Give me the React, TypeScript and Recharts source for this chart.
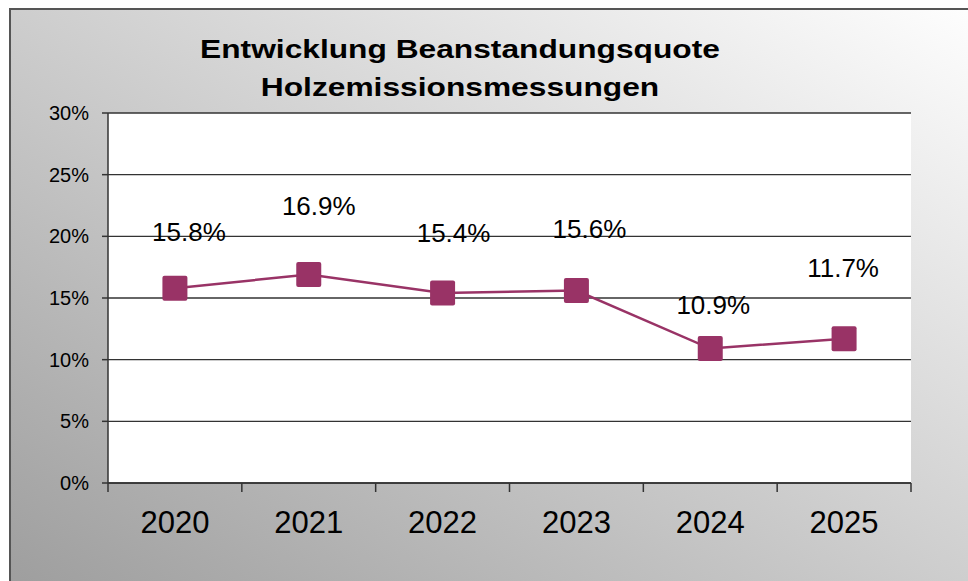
import { LineChart, Line, XAxis, YAxis, CartesianGrid, LabelList } from "recharts";

const YEARS = ["2020", "2021", "2022", "2023", "2024", "2025"];
const QUOTE = [15.8, 16.9, 15.4, 15.6, 10.9, 11.7];
const Y_TICKS = [0, 5, 10, 15, 20, 25, 30];

// data labels were dragged around by hand in the original, keep the nudges (dx, dy from the point)
const LABEL_NUDGE = [
  [14, -47],
  [10, -60],
  [11, -51],
  [13, -53],
  [3, -35],
  [-1, -62],
];

const W = 968;
const H = 581;
const PLOT_LEFT = 108;
const PLOT_RIGHT = 911;
const PLOT_TOP = 113;
const PLOT_BOTTOM = 483;
const PLOT_W = PLOT_RIGHT - PLOT_LEFT;
const HALF_BAND = PLOT_W / YEARS.length / 2;

const FONT = "'Liberation Sans', Arial, sans-serif";
const PLUM = "#993366";

const data = YEARS.map((year, i) => ({ year, quote: QUOTE[i] }));

function YearTick(props: any) {
  const { x, y, payload, index, visibleTicksCount } = props;
  return (
    <g>
      <line x1={x - HALF_BAND} x2={x - HALF_BAND} y1={y} y2={y + 9} stroke="#333" strokeWidth={1.5} />
      {index === visibleTicksCount - 1 && (
        <line x1={x + HALF_BAND} x2={x + HALF_BAND} y1={y} y2={y + 9} stroke="#333" strokeWidth={1.5} />
      )}
      <text x={x} y={y + 50} textAnchor="middle" fontSize={31} fontFamily={FONT} fill="#000">
        {payload.value}
      </text>
    </g>
  );
}

function PercentTick(props: any) {
  const { x, y, payload } = props;
  return (
    <text x={x} y={y} dy="0.355em" textAnchor="end" fontSize={20} fontFamily={FONT} fill="#000">
      {`${payload.value}%`}
    </text>
  );
}

function SquareDot(props: any) {
  const { cx, cy, index } = props;
  if (cx == null || cy == null) return null;
  return <rect key={index} x={cx - 12.5} y={cy - 12.5} width={25} height={25} rx={2} fill={PLUM} />;
}

function PointLabel(props: any) {
  const { x, y, value, index } = props;
  const [dx, dy] = LABEL_NUDGE[index] ?? [0, -50];
  return (
    <text x={x + dx} y={y + dy} textAnchor="middle" fontSize={26} fontFamily={FONT} fill="#000">
      {`${value.toFixed(1)}%`}
    </text>
  );
}

export default function App() {
  return (
    <div style={{ position: "absolute", left: 0, top: 0, width: W, height: H, overflow: "hidden" }}>
      <div
        style={{
          position: "absolute",
          left: 9,
          top: 8,
          width: 990,
          height: 600,
          border: "2px solid #555",
          background: "linear-gradient(to top right, #9c9c9c, #ffffff)",
        }}
      />
      <div
        style={{
          position: "absolute",
          left: 0,
          top: 30,
          width: 920,
          textAlign: "center",
          fontFamily: FONT,
          fontWeight: 700,
          fontSize: 26,
          lineHeight: "38px",
          color: "#000",
          transform: "scaleX(1.22)",
        }}
      >
        <div>Entwicklung Beanstandungsquote</div>
        <div>Holzemissionsmessungen</div>
      </div>
      <div style={{ position: "absolute", left: 0, top: 0 }}>
        <LineChart
          width={W}
          height={H}
          data={data}
          margin={{ top: PLOT_TOP, right: W - PLOT_RIGHT, bottom: 0, left: 0 }}
        >
          <CartesianGrid vertical={false} stroke="#333" strokeWidth={1.3} fill="#fff" fillOpacity={1} />
          <XAxis
            dataKey="year"
            height={H - PLOT_BOTTOM}
            padding={{ left: HALF_BAND, right: HALF_BAND }}
            tickSize={0}
            tickMargin={0}
            tickLine={false}
            axisLine={{ stroke: "#333", strokeWidth: 1.5 }}
            tick={<YearTick />}
            interval={0}
          />
          <XAxis
            xAxisId="top"
            dataKey="year"
            orientation="top"
            height={0}
            padding={{ left: HALF_BAND, right: HALF_BAND }}
            tick={false}
            tickLine={false}
            axisLine={{ stroke: "#888", strokeWidth: 2 }}
          />
          <YAxis
            width={PLOT_LEFT}
            domain={[0, 30]}
            ticks={Y_TICKS}
            interval={0}
            tickSize={6}
            tickMargin={13}
            tick={<PercentTick />}
            tickLine={{ stroke: "#333", strokeWidth: 1.5 }}
            axisLine={{ stroke: "#333", strokeWidth: 1.5 }}
          />
          <YAxis
            yAxisId="right"
            orientation="right"
            width={0}
            domain={[0, 30]}
            tick={false}
            tickLine={false}
            axisLine={{ stroke: "#8a8a8a", strokeWidth: 3 }}
          />
          <Line
            type="linear"
            dataKey="quote"
            stroke={PLUM}
            strokeWidth={2.5}
            dot={<SquareDot />}
            activeDot={false}
            isAnimationActive={false}
          >
            <LabelList dataKey="quote" content={<PointLabel />} />
          </Line>
        </LineChart>
      </div>
    </div>
  );
}
